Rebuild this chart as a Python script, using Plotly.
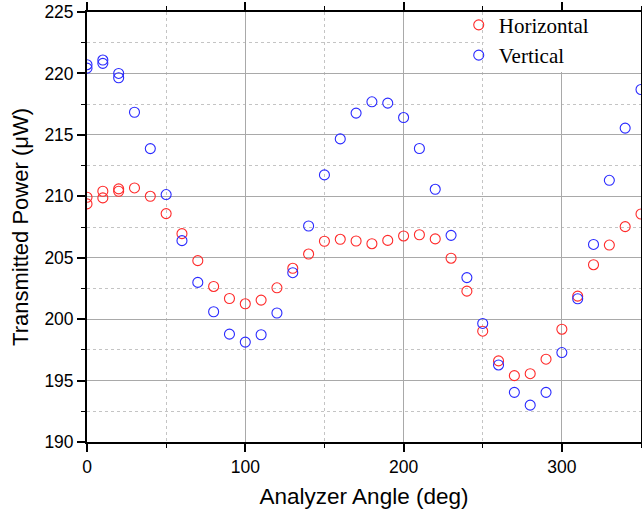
import plotly.graph_objects as go

# Analyzer angle sweep (deg) and transmitted power (uW) for each input polarization
angles = [0, 10, 20, 30, 40, 50, 60, 70, 80, 90, 100, 110, 120, 130, 140, 150, 160, 170,
          180, 190, 200, 210, 220, 230, 240, 250, 260, 270, 280, 290, 300, 310, 320, 330, 340, 350]
horizontal = [209.38, 209.87, 210.41, 210.68, 210.00, 208.59, 206.96, 204.76, 202.66, 201.68,
              201.25, 201.55, 202.55, 204.14, 205.30, 206.34, 206.50, 206.36, 206.14, 206.41,
              206.77, 206.87, 206.53, 204.96, 202.28, 199.02, 196.60, 195.40, 195.56, 196.74,
              199.18, 201.87, 204.43, 206.03, 207.53, 208.56]
vertical = [220.43, 220.82, 219.65, 216.84, 213.88, 210.14, 206.39, 202.99, 200.60, 198.78,
            198.13, 198.73, 200.50, 203.78, 207.58, 211.74, 214.67, 216.77, 217.69, 217.58,
            216.41, 213.89, 210.57, 206.82, 203.38, 199.65, 196.27, 194.04, 193.00, 194.04,
            197.28, 201.66, 206.08, 211.30, 215.55, 218.69]

# Repeated readings taken at the start of the sweep
repeat_angles = [0, 10, 20]
horizontal_repeat = [209.92, 210.41, 210.60]
vertical_repeat = [220.71, 221.09, 220.00]

x_ticks = [0, 100, 200, 300]
y_ticks = [190, 195, 200, 205, 210, 215, 220, 225]

sans = "Liberation Sans, Arial, sans-serif"
serif = "Liberation Serif, Times New Roman, serif"

fig = go.Figure()
fig.add_trace(go.Scatter(
    x=angles + repeat_angles, y=horizontal + horizontal_repeat,
    mode="markers", name="Horizontal",
    marker=dict(symbol="circle-open", size=10, color="#ff2a2a", line=dict(width=1.1)),
))
fig.add_trace(go.Scatter(
    x=angles + repeat_angles, y=vertical + vertical_repeat,
    mode="markers", name="Vertical",
    marker=dict(symbol="circle-open", size=10, color="#2a2aff", line=dict(width=1.1)),
))

# white backing behind the legend, above the grid
fig.add_shape(type="rect", xref="x", yref="y", x0=250.6, x1=352, y0=220.12, y1=226,
              fillcolor="white", line=dict(width=0), layer="between")

axis_common = dict(
    showline=True, linecolor="black", linewidth=1.8, mirror="ticks",
    ticks="outside", ticklen=8, tickwidth=1.6, tickcolor="black",
    showgrid=True, gridcolor="#a9a9a9", gridwidth=1,
    zeroline=False,
    tickfont=dict(family=sans, size=17.5, color="black"),
)

fig.update_xaxes(
    range=[0, 350], tickvals=x_ticks, ticktext=[str(v) for v in x_ticks],
    minor=dict(dtick=50, tick0=0, ticks="outside", ticklen=4, tickwidth=1.4, tickcolor="black",
               showgrid=True, gridcolor="#c4c4c4", griddash="dot", gridwidth=1),
    title=dict(text="Analyzer Angle (deg)", font=dict(family=sans, size=22.5, color="black"),
               standoff=12),
    **axis_common,
)
fig.update_yaxes(
    range=[190, 225], tickvals=y_ticks, ticktext=[str(v) for v in y_ticks],
    minor=dict(dtick=2.5, tick0=190, ticks="outside", ticklen=4, tickwidth=1.4, tickcolor="black",
               showgrid=True, gridcolor="#c4c4c4", griddash="dot", gridwidth=1),
    title=dict(text="Transmitted Power (\u03bcW)", font=dict(family=sans, size=22, color="black"),
               standoff=10),
    **axis_common,
)

fig.update_layout(
    width=642, height=512,
    margin=dict(l=87, r=1, t=12, b=70, autoexpand=False),
    plot_bgcolor="white", paper_bgcolor="white",
    showlegend=True,
    legend=dict(x=0.671, y=1.017, xanchor="left", yanchor="top",
                bgcolor="rgba(0,0,0,0)", borderwidth=0,
                font=dict(family=serif, size=21, color="black"),
                itemwidth=30, tracegroupgap=0),
)

fig.write_html("out.html")
